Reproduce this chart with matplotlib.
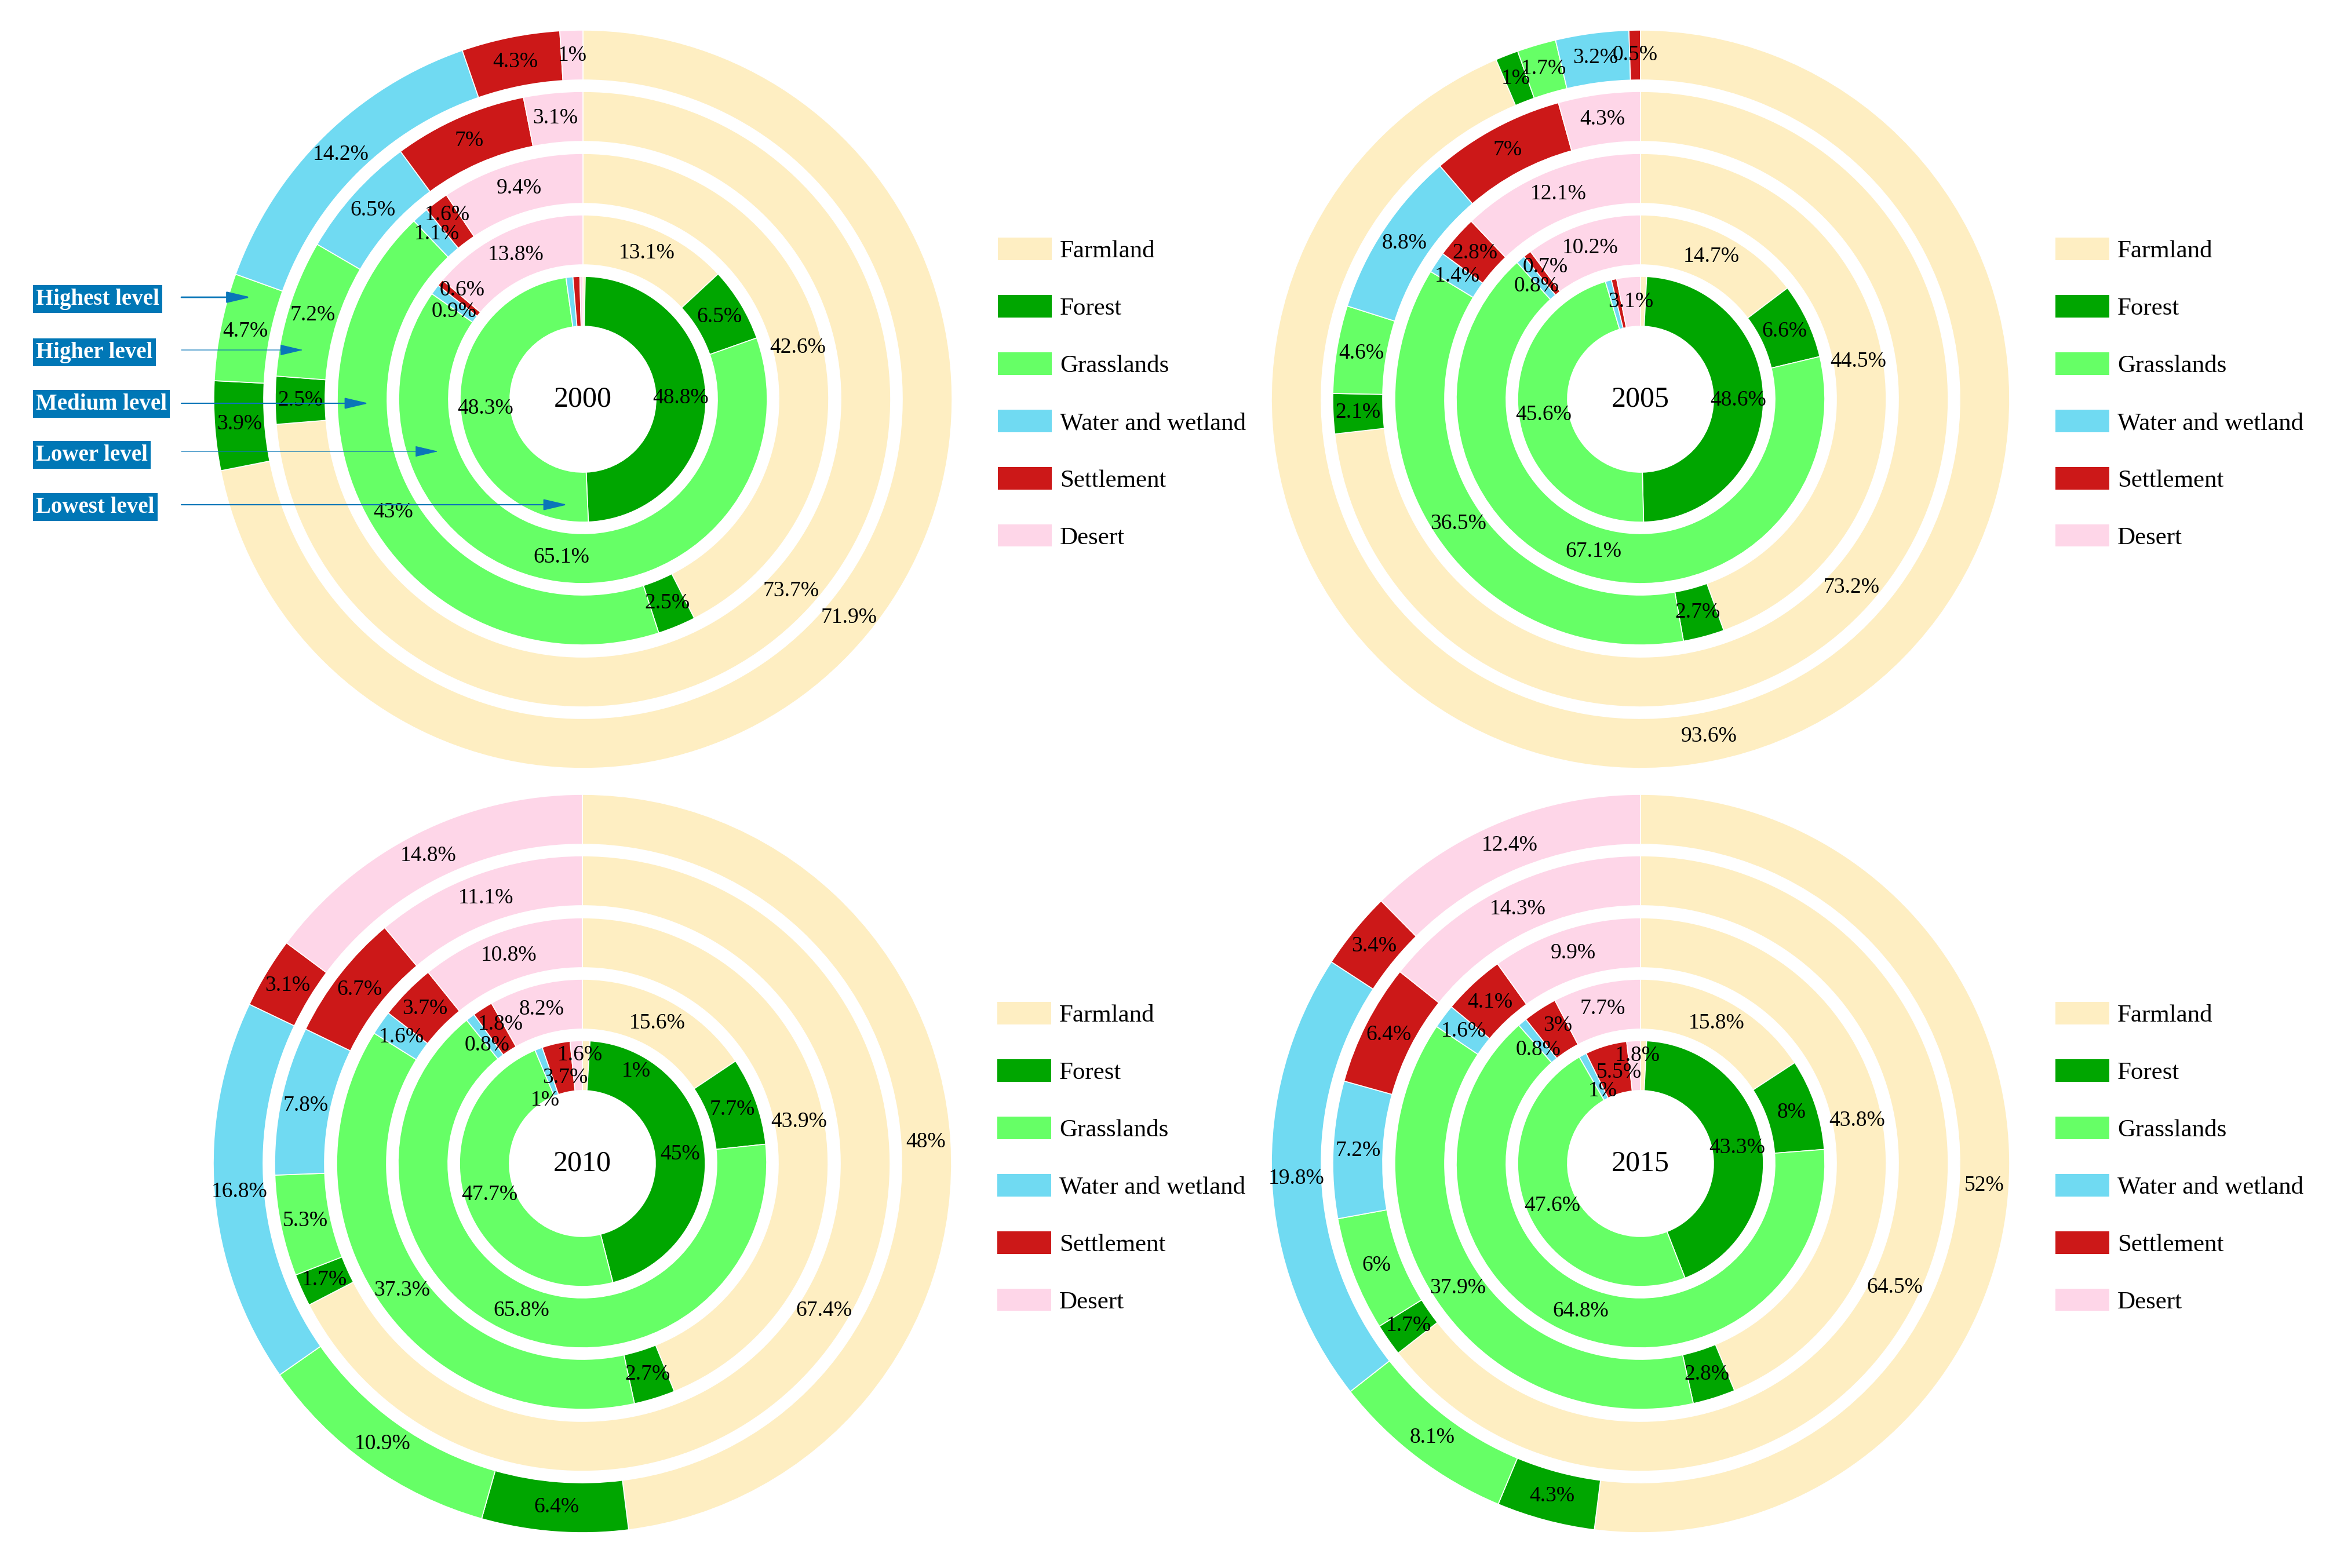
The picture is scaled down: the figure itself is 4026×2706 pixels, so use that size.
import matplotlib
matplotlib.use('Agg')
import matplotlib.pyplot as plt
from matplotlib.patches import Patch

plt.rcParams['font.family'] = ['Liberation Serif', 'DejaVu Serif']

# land use shares (%) per level, rings from lowest (inner) to highest (outer)
categories = ['Farmland', 'Forest', 'Grasslands', 'Water and wetland', 'Settlement', 'Desert']
colors = ['#feeec2', '#00a600', '#66ff66', '#70daf2', '#cc1818', '#fed6e8']
levels = ['Lowest level', 'Lower level', 'Medium level', 'Higher level', 'Highest level']
years = ['2000', '2005', '2010', '2015']

share_2000 = [
    [0.3, 48.8, 48.3, 0.9, 0.9, 0.4],
    [13.1, 6.5, 65.1, 0.9, 0.6, 13.8],
    [42.6, 2.5, 43, 1.1, 1.6, 9.4],
    [73.7, 2.5, 7.2, 6.5, 7, 3.1],
    [71.9, 3.9, 4.7, 14.2, 4.3, 1],
]
share_2005 = [
    [0.8, 48.6, 45.6, 0.8, 0.7, 3.1],
    [14.7, 6.6, 67.1, 0.8, 0.7, 10.2],
    [44.5, 2.7, 36.5, 1.4, 2.8, 12.1],
    [73.2, 2.1, 4.6, 8.8, 7, 4.3],
    [93.6, 1, 1.7, 3.2, 0.5, 0],
]
share_2010 = [
    [1, 45, 47.7, 1, 3.7, 1.6],
    [15.6, 7.7, 65.8, 0.8, 1.8, 8.2],
    [43.9, 2.7, 37.3, 1.6, 3.7, 10.8],
    [67.4, 1.7, 5.3, 7.8, 6.7, 11.1],
    [48, 6.4, 10.9, 16.8, 3.1, 14.8],
]
share_2015 = [
    [0.8, 43.3, 47.6, 1, 5.5, 1.8],
    [15.8, 8, 64.8, 0.8, 3, 7.7],
    [43.8, 2.8, 37.9, 1.6, 4.1, 9.9],
    [64.5, 1.7, 6, 7.2, 6.4, 14.3],
    [52, 4.3, 8.1, 19.8, 3.4, 12.4],
]
shares = [share_2000, share_2005, share_2010, share_2015]

# layout (pixels)
W, H = 4026, 2706
centers = [(1006, 689), (2831, 689), (1005, 2008), (2831, 2008)]
L = 700
ring_outer = [212, 318, 424, 531, 637]
ring_w = 86

# labels moved apart where they crowd (year, ring, category) -> (dx, dy)
nudge = {
    ('2000', 1, 3): (-1, -12), ('2000', 1, 4): (5, 14), ('2000', 2, 4): (-7, 13),
    ('2005', 1, 3): (0, -13), ('2005', 1, 4): (5, 11),
    ('2010', 0, 0): (87, -10), ('2010', 0, 3): (-4, -49), ('2010', 0, 4): (7, -17),
    ('2010', 0, 5): (4, 18), ('2010', 1, 3): (3, -14), ('2010', 1, 4): (8, 9),
    ('2015', 0, 3): (14, -24), ('2015', 0, 4): (10, -5), ('2015', 0, 5): (4, 18),
    ('2015', 1, 3): (0, -15), ('2015', 1, 4): (7, 8),
}

fig = plt.figure(figsize=(W / 100, H / 100), dpi=100)
axes = []
for year, data, (cx, cy) in zip(years, shares, centers):
    ax = fig.add_axes([(cx - L) / W, (H - cy - L) / H, 2 * L / W, 2 * L / H])
    for i, ring in enumerate(data):
        r = ring_outer[i]
        # tiny slices of the inner ring carry no label
        labels = [f'{v:g}%' if v > 0 and (i > 0 or v >= 1) else '' for v in ring]
        wedges, texts = ax.pie(ring, radius=r, startangle=90, counterclock=False,
                               colors=colors, labels=labels, labeldistance=(r - 43) / r,
                               wedgeprops=dict(width=ring_w, edgecolor='white', linewidth=1.2),
                               textprops=dict(ha='center', va='center', fontsize=27))
        for j, t in enumerate(texts):
            if (year, i, j) in nudge:
                dx, dy = nudge[(year, i, j)]
                x, y = t.get_position()
                t.set_position((x + dx, y + dy))
    ax.text(0, 0, year, ha='center', va='center', fontsize=36)
    ax.set_xlim(-L, L)
    ax.set_ylim(-L, L)
    ax.set_aspect('equal')
    ax.axis('off')
    handles = [Patch(facecolor=c, edgecolor='none') for c in colors]
    ax.legend(handles, categories, loc='center left', bbox_to_anchor=(716, 10),
              bbox_transform=ax.transData, frameon=False, fontsize=31,
              handlelength=2.16, handleheight=1.0, handletextpad=0.32,
              labelspacing=1.30, borderpad=0, borderaxespad=0)
    axes.append(ax)

# level callouts on the first chart
ax = axes[0]
arrow_y = [176, 85, -7, -90, -182]
arrow_tip = [-573, -483, -370, -250, -27]
arrow_lw = [2.0, 0.9, 1.6, 0.9, 1.6]
box_y = [173, 81, -8, -96, -186]
for name, ay, tx, lw, by in zip(levels[::-1], arrow_y, arrow_tip, arrow_lw, box_y):
    ax.text(-944, by, name, ha='left', va='center', fontsize=28, fontweight='bold',
            color='white', zorder=10, clip_on=False,
            bbox=dict(boxstyle='square,pad=0.14', facecolor='#0077b6', edgecolor='none'))
    ax.annotate('', xy=(tx, ay), xytext=(-693, ay), annotation_clip=False, zorder=10,
                arrowprops=dict(arrowstyle='-|>,head_length=0.85,head_width=0.2',
                                color='#0a76b8', lw=lw, shrinkA=0, shrinkB=0,
                                mutation_scale=30))

fig.savefig('out.png', dpi=100)
